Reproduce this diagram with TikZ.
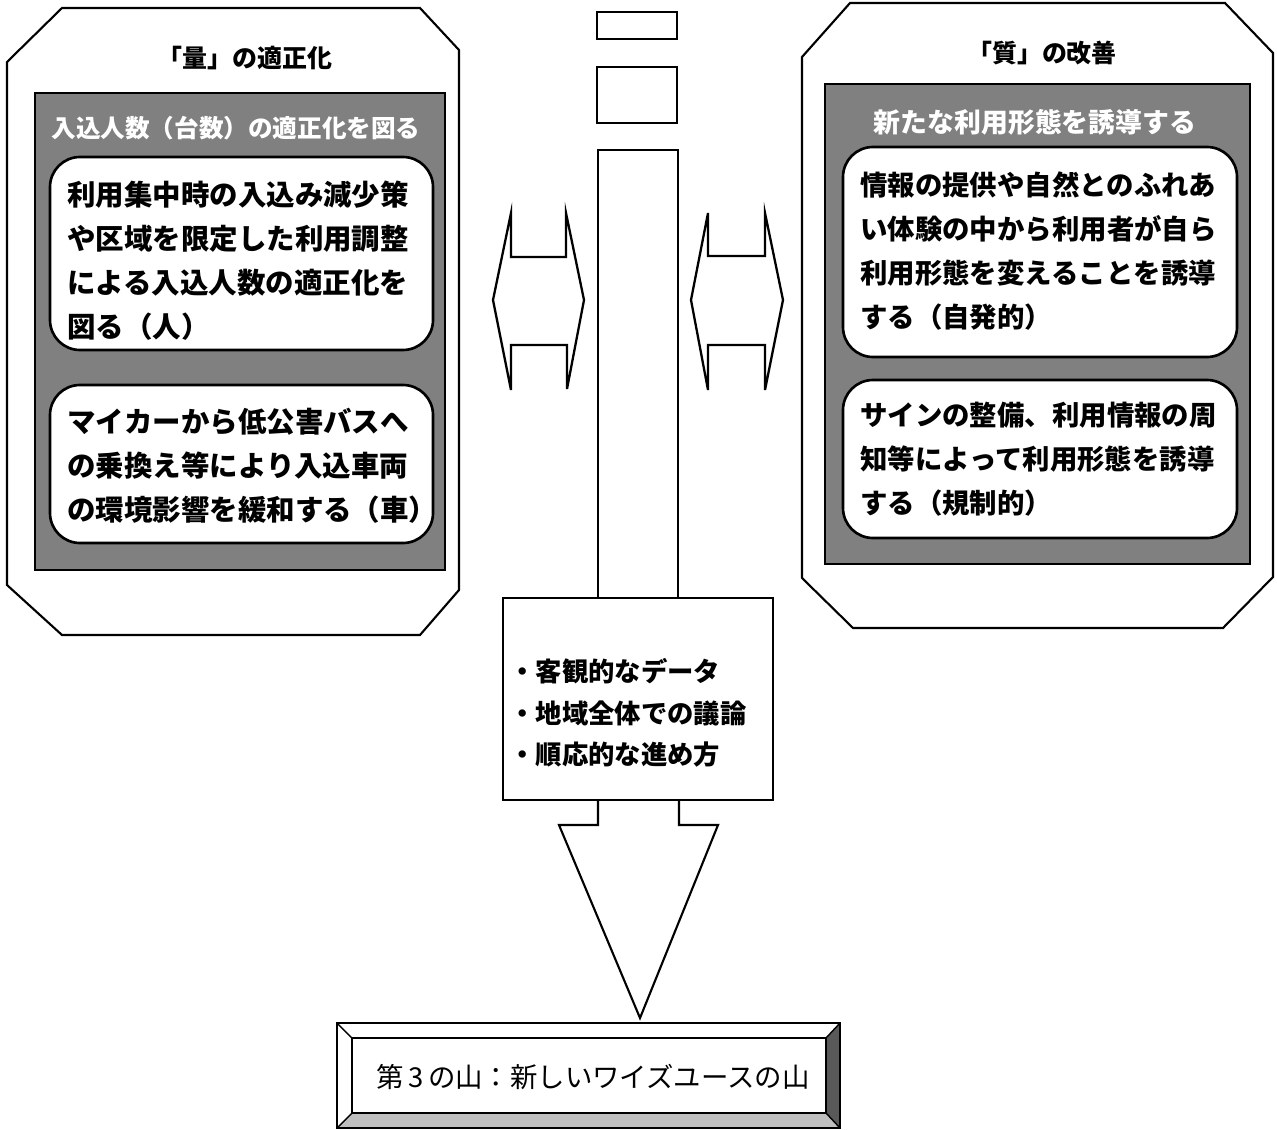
\documentclass[tikz,border=0pt]{standalone}
\usepackage{fontspec}
\setmainfont{Noto Sans CJK JP}
\begin{document}
\begin{tikzpicture}[x=0.02cm,y=-0.02cm,
  oct/.style={draw,line width=1.2pt,fill=white,line join=miter},
  darkframe/.style={draw,line width=1.3pt,fill=black!50},
  rbox/.style={draw,line width=1.5pt,fill=white,rounded corners=0.6cm},
  plainbox/.style={draw,line width=1.2pt,fill=white,inner sep=0pt},
  body/.style={anchor=west,align=left,inner sep=0pt,font=\bfseries\fontsize{16.2}{25}\selectfont},
  titletext/.style={inner sep=0pt,font=\bfseries\fontsize{14.2}{16}\selectfont},
  headtext/.style={inner sep=0pt,text=white,font=\bfseries\fontsize{14}{16}\selectfont},
  dblarrow/.style={draw,line width=1.3pt,fill=white,line join=miter}]
\useasboundingbox (0,0) rectangle (1277,1129);
\fill[white] (0,0) rectangle (1277,1129);

% left octagon
\draw[oct] (62,8)--(420,8)--(459,50)--(459,590)--(420,635)--(62,635)--(7,585)--(7,62)--cycle;
\node[titletext] (ltitle) at (245,58) {「量」の適正化};
\draw[darkframe] (35,93) rectangle (445,570);
\node[headtext] (lhead) at (236,128) {入込人数（台数）の適正化を図る};
\draw[rbox] (50,157) rectangle (433,350);
\draw[rbox] (50,385) rectangle (433,543);
\node[body] (l1) at (67,261) {利用集中時の入込み減少策\\や区域を限定した利用調整\\による入込人数の適正化を\\図る（人）};
\node[body] (l2) at (67,466) {マイカーから低公害バスへ\\の乗換え等により入込車両\\の環境影響を緩和する（車）};

% right octagon
\draw[oct] (850,3)--(1225,3)--(1273,53)--(1273,577)--(1223,628)--(853,628)--(802,578)--(802,57)--cycle;
\node[titletext] (rtitle) at (1042,53) {「質」の改善};
\draw[darkframe] (825,84) rectangle (1250,564);
\node[headtext,font=\bfseries\fontsize{15.3}{17}\selectfont] (rhead) at (1035,122) {新たな利用形態を誘導する};
\draw[rbox] (843,147) rectangle (1237,357);
\draw[rbox] (843,380) rectangle (1237,538);
\node[body,font=\bfseries\fontsize{15.6}{25}\selectfont] (r1) at (860,251) {情報の提供や自然とのふれあ\\い体験の中から利用者が自ら\\利用形態を変えることを誘導\\する（自発的）};
\node[body,font=\bfseries\fontsize{15.6}{25}\selectfont] (r2) at (860,459) {サインの整備、利用情報の周\\知等によって利用形態を誘導\\する（規制的）};

% central column
\node[plainbox,minimum width=80*0.02cm,minimum height=27*0.02cm] (c1) at (637,25.5) {};
\node[plainbox,minimum width=80*0.02cm,minimum height=56*0.02cm] (c2) at (637,95) {};
\draw[line width=1.2pt,fill=white] (598,598)--(598,150)--(678,150)--(678,598);
\node[plainbox,minimum width=270*0.02cm,minimum height=202*0.02cm] (bul) at (638,699) {};
\node[anchor=west,align=left,inner sep=0pt,font=\bfseries\fontsize{15}{23.5}\selectfont] (bultext) at (509,713) {・客観的なデータ\\・地域全体での議論\\・順応的な進め方};
\draw[line width=1.2pt,fill=white,line join=miter] (bul.south -| 598,0)--(598,825)--(559,825)--(640,1018)--(718,825)--(679,825)--(bul.south -| 679,0);

% double arrows
\draw[dblarrow] (511,213)--(511,257)--(566,257)--(566,213)--(584,300)--(567,389)--(567,345)--(511,345)--(511,390)--(493,300)--cycle;
\draw[dblarrow] (708,213)--(708,256)--(765,256)--(765,213)--(783,300)--(765,390)--(765,345)--(708,345)--(708,390)--(691,300)--cycle;

% bottom bevel box
\fill[black!65] (840,1023)--(826,1038)--(826,1113)--(840,1128)--cycle;
\fill[black!25] (337,1128)--(352,1113)--(826,1113)--(840,1128)--cycle;
\draw[line width=1.2pt] (337,1023) rectangle (840,1128);
\draw[line width=1.2pt] (352,1038) rectangle (826,1113);
\draw[line width=0.8pt] (337,1023)--(352,1038) (840,1023)--(826,1038) (337,1128)--(352,1113) (840,1128)--(826,1113);
\node[inner sep=0pt,font=\fontsize{15.6}{18}\selectfont] (goal) at (593,1077) {第\,3\,の山：新しいワイズユースの山};
\end{tikzpicture}
\end{document}
